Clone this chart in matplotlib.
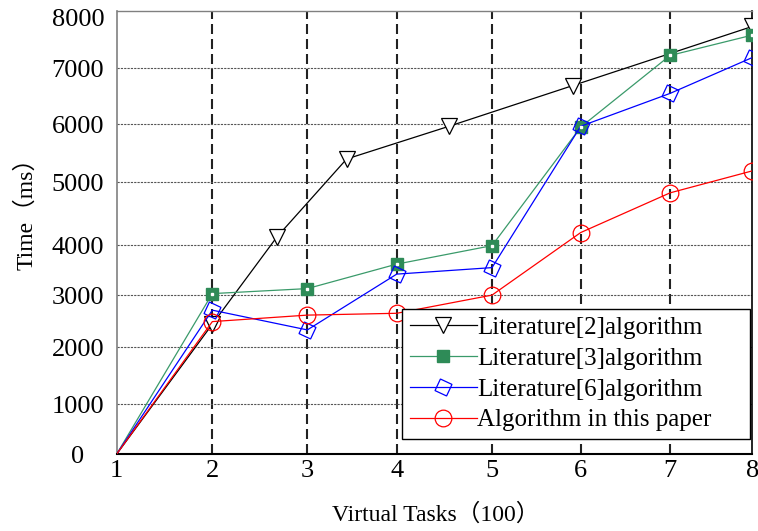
import numpy as np
import matplotlib
matplotlib.use('Agg')
import matplotlib.pyplot as plt

plt.rcParams['font.family'] = ['Liberation Serif', 'Noto Sans CJK SC']

# datos
tareas = [1, 2, 3, 4, 5, 6, 7, 8]
x_lit2 = [1, 2, 2.68, 3.44, 4.55, 5.91, 8]
t_lit2 = [0, 2440, 4130, 5400, 5965, 6690, 7820]
t_lit3 = [0, 3030, 3130, 3620, 3990, 5950, 7250, 7650]
t_lit6 = [0, 2710, 2330, 3420, 3550, 5965, 6550, 7210]
t_paper = [0, 2490, 2615, 2650, 3000, 4200, 4830, 5195]

nombres = ['Literature[2]algorithm', 'Literature[3]algorithm',
           'Literature[6]algorithm', 'Algorithm in this paper']
y_marcas = [0, 1000, 2000, 3000, 4000, 5000, 6000, 7000, 8000]

# la escala original no es uniforme: tramos leidos del eje
y_nudos = [-1000, 0, 1000, 2000, 3000, 4000, 5000, 6000, 7000, 8000, 9000]
y_tramos = [-50, 0, 50, 107, 159, 209, 272, 330, 386, 437, 488]
x_nudos = [0, 1, 2, 3, 4, 5, 6, 7, 8, 9]
x_tramos = [-95, 0, 95.6, 190.6, 280, 375.3, 464, 553.3, 635.6, 718]


def ida(nudos, tramos):
    return lambda v: np.interp(v, nudos, tramos)


fig = plt.figure(figsize=(7.58, 5.31), dpi=100)
ax = fig.add_axes([0.154, 0.145, 0.8385, 0.834])
ax.set_xscale('function', functions=(ida(x_nudos, x_tramos), ida(x_tramos, x_nudos)))
ax.set_yscale('function', functions=(ida(y_nudos, y_tramos), ida(y_tramos, y_nudos)))

ax.plot(x_lit2, t_lit2, color='black', lw=0.9, marker='v', ms=12,
        mfc='white', mec='black', mew=0.9, markevery=slice(1, None), label=nombres[0], zorder=4)
ax.plot(tareas, t_lit3, color='#3a9a6a', lw=0.9, marker='s', ms=9,
        mfc='#2e8b57', mec='#2e8b57', markevery=slice(1, None), label=nombres[1], zorder=4)
ax.plot(tareas[1:], t_lit3[1:], ls='none', marker='s', ms=2, mfc='white', mec='white', zorder=5)
ax.plot(tareas, t_lit6, color='#0000ff', lw=0.9, marker=(4, 0, 20), ms=13,
        mfc='none', mec='#0000ff', mew=0.9, markevery=slice(1, None), label=nombres[2], zorder=4)
ax.plot(tareas, t_paper, color='#ff0000', lw=0.9, marker='o', ms=12,
        mfc='none', mec='#ff0000', mew=0.9, markevery=slice(1, None), label=nombres[3], zorder=4)

ax.set_xlim(1, 8)
ax.set_ylim(0, 8120)
ax.set_xticks(tareas)
ax.set_yticks(y_marcas)
ax.set_xticklabels([str(t) for t in tareas])
ax.set_yticklabels([str(m) for m in y_marcas])
ax.tick_params(axis='both', length=0, labelsize=19)
ax.tick_params(axis='y', pad=28)
ax.tick_params(axis='x', pad=4)
for lbl in ax.get_yticklabels():
    lbl.set_ha('center')

# rejilla: horizontal punteada, vertical a trazos gruesos
ax.grid(axis='y', color='#555555', ls=(0, (2, 1)), lw=0.8)
ax.grid(axis='x', color='#222222', ls=(0, (4.8, 2.4)), lw=1.5)
lineas_x = ax.get_xgridlines()
lineas_x[0].set_visible(False)
lineas_x[-1].set_visible(False)
lineas_y = ax.get_ygridlines()
lineas_y[0].set_visible(False)
lineas_y[-1].set_visible(False)
ax.set_axisbelow(True)

ax.spines['left'].set_color('#808080')
ax.spines['left'].set_linewidth(1.2)
ax.spines['top'].set_color('#808080')
ax.spines['top'].set_linewidth(1.0)
ax.spines['bottom'].set_linewidth(1.5)
ax.spines['right'].set_linewidth(1.2)

ax.set_ylabel('Time（ms）', fontsize=17)
ax.set_xlabel('Virtual Tasks（100）', fontsize=17)
ax.yaxis.set_label_coords(-0.125, 0.555)
ax.xaxis.set_label_coords(0.502, -0.112)

leg = ax.legend(loc='lower left', bbox_to_anchor=(0.449, 0.034, 0.5474, 0.3),
                mode='expand', borderaxespad=0,
                fontsize=18, frameon=True, fancybox=False, framealpha=1,
                edgecolor='black', handlelength=2.7, handletextpad=0.0,
                borderpad=0.3, labelspacing=0.33)
leg.get_frame().set_linewidth(1.0)
leg.set_zorder(10)

fig.savefig('out.png', dpi=100)
